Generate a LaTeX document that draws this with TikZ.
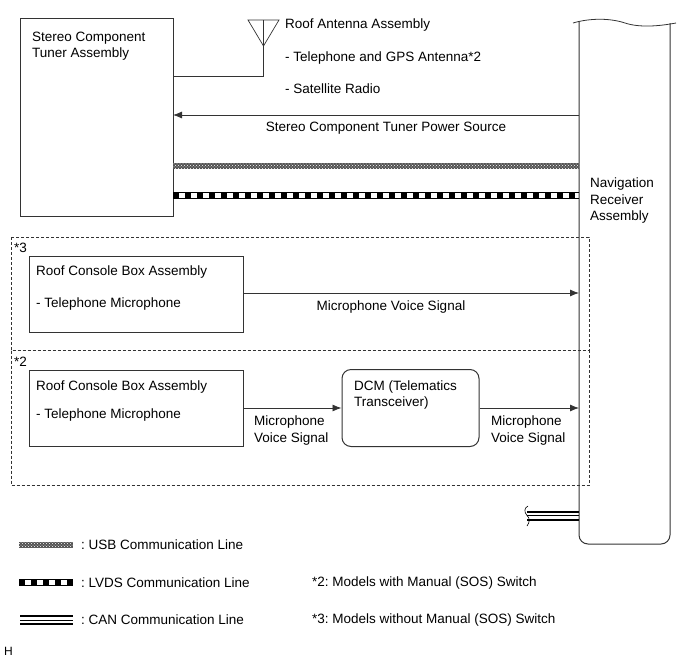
\documentclass[tikz,border=0pt]{standalone}
\usepackage{fontspec}
\setmainfont{Liberation Sans}
\usetikzlibrary{arrows.meta,patterns}
\definecolor{ln}{gray}{0.2}
\tikzset{x=1pt,y=-1pt,
 every node/.style={font=\frenchspacing\fontsize{13.5}{16.3}\selectfont},
 txt/.style={inner sep=0pt,anchor=west,align=left},
 ctr/.style={inner sep=0pt,align=center},
 boxn/.style={draw=ln,line width=1pt,inner sep=0pt},
 wire/.style={draw=ln,line width=0.8pt},
 arr/.style={wire,-{Latex[length=9pt,width=7pt]}},
 zone/.style={draw=ln,dashed,line width=0.5pt,dash pattern=on 3pt off 2pt}}
\newcommand{\usbline}[2]{%
 \fill[gray!65!black] (#1) rectangle (#2);
 \fill[pattern=crosshatch dots,pattern color=white] (#1) rectangle (#2);}
\newcommand{\lvdsline}[3]{% x1 x2 y
 \draw[black,line width=6pt,dash pattern=on 6pt off 6pt] (#1,#3) -- (#2,#3);
 \draw[black,line width=1pt] (#1,#3-3) -- (#2,#3-3) (#1,#3+3) -- (#2,#3+3);}
\newcommand{\canline}[3]{% x1 x2 y
 \draw[black,line width=2pt] (#1,#3-4) -- (#2,#3-4);
 \draw[black,line width=0.7pt] (#1,#3) -- (#2,#3);
 \draw[black,line width=2pt] (#1,#3+4) -- (#2,#3+4);}
\begin{document}
\begin{tikzpicture}
\useasboundingbox (0,0) rectangle (690,659);
% navigation
\draw[ln,line width=1pt,rounded corners=9pt] (579,22) -- (579,544) -- (670,544) -- (670,23);
\draw[ln,line width=0.8pt] (573,23) .. controls (590,18) and (610,18) .. (625,23) .. controls (640,28) and (660,26) .. (676,23);
\node[txt,anchor=north west] (nav) at (590,178) {Navigation\\Receiver\\Assembly};
\coordinate (navtop) at (579,115);
\coordinate (nav1) at (579,293);
\coordinate (nav2) at (579,408);
% tuner
\node[boxn,minimum width=153pt,minimum height=198pt] (tuner) at (96.5,117) {};
\node[txt,anchor=north west] (tunertxt) at (32,31.5) {Stereo Component\\Tuner Assembly};
% antenna
\coordinate (a1) at (248,20);
\coordinate (a2) at (279,20);
\coordinate (atip) at (263.5,46);
\draw[ln,line width=0.7pt] (a1) -- (a2) -- (atip) -- cycle;
\draw[ln,line width=0.7pt] (263.5,20) -- (atip);
\draw[wire] (atip) -- (263.5,76) -- (173,76);
\node[txt] (ant1) at (285,25.5) {Roof Antenna Assembly};
\node[txt] (ant2) at (285,58.5) {- Telephone and GPS Antenna*2};
\node[txt] (ant3) at (285,89) {- Satellite Radio};
% power
\draw[arr] (navtop) -- (173,115);
\node[ctr] (pwr) at (386,128.5) {Stereo Component Tuner Power Source};
% lines
\usbline{173,162.5}{579,168.5}
\lvdsline{173}{579}{195}
% zones
\draw[zone] (11,237) rectangle (589,350.5);
\draw[zone] (11,350.5) rectangle (589,485);
\node[txt] (z3) at (14,248) {*3};
\node[txt] (z2) at (14,362) {*2};
% box 1
\node[boxn,minimum width=214pt,minimum height=76pt] (rc1) at (136,294) {};
\node[txt] (rc1a) at (36,272.5) {Roof Console Box Assembly};
\node[txt] (rc1b) at (36,304.5) {- Telephone Microphone};
\draw[arr] (rc1.east |- nav1) -- (nav1);
\node[ctr] (mv1) at (391,307) {Microphone Voice Signal};
% box 2
\node[boxn,minimum width=214pt,minimum height=76pt] (rc2) at (136,408) {};
\node[txt] (rc2a) at (36,387.5) {Roof Console Box Assembly};
\node[txt] (rc2b) at (36,415.5) {- Telephone Microphone};
\node[boxn,rounded corners=9pt,minimum width=137pt,minimum height=77pt] (dcm) at (410.5,408) {};
\node[txt,anchor=north west] (dcmt) at (354,380.5) {DCM (Telematics\\Transceiver)};
\draw[arr] (rc2.east) -- (dcm.west);
\draw[arr] (dcm.east) -- (nav2);
\node[txt,anchor=north west] (mv2) at (254,416) {Microphone\\Voice Signal};
\node[txt,anchor=north west] (mv3) at (491,416) {Microphone\\Voice Signal};
% CAN
\canline{527}{579}{515.5}
\draw[black,line width=0.6pt] (528,506) .. controls (524,508) and (524,512) .. (527,515.5) .. controls (530,518) and (530,522) .. (527,526);
% legend
\usbline{19,541.5}{73,547.5}
\lvdsline{19}{73}{582}
\canline{20}{73}{620}
\node[txt] (l1) at (81,545) {: USB Communication Line};
\node[txt] (l2) at (81,583) {: LVDS Communication Line};
\node[txt] (l3) at (81,620) {: CAN Communication Line};
\node[txt] (n2) at (312,583) {*2: Models with Manual (SOS) Switch};
\node[txt] (n3) at (312,620) {*3: Models without Manual (SOS) Switch};
\node[txt,font=\fontsize{12}{14}\selectfont] (h) at (4,651) {H};
\end{tikzpicture}
\end{document}
